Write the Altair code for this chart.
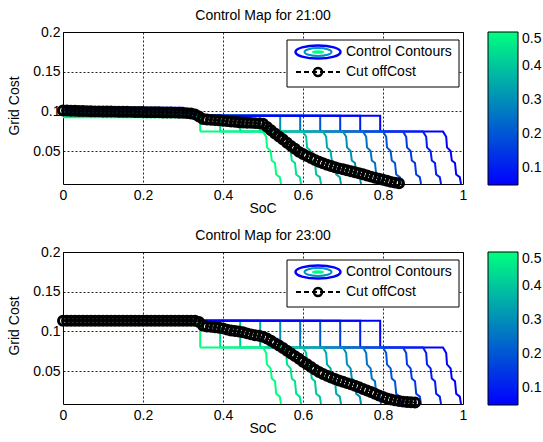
import altair as alt
import pandas as pd

FONT = "Liberation Sans"

# ---------------- data ----------------
soc_ticks = [0, 0.2, 0.4, 0.6, 0.8, 1]
cost_ticks = [0.05, 0.1, 0.15, 0.2]
cbar_ticks = [0.1, 0.2, 0.3, 0.4, 0.5]
y_min = 0.0085

levels = [0.5, 0.45, 0.4, 0.35, 0.3, 0.25, 0.2, 0.15, 0.1, 0.05]
knee_soc = [0.0, 0.30, 0.34]
drop_soc = [0.343, 0.393, 0.443, 0.493, 0.543, 0.593, 0.643, 0.693, 0.743, 0.793]
stair_soc = [0.500, 0.550, 0.600, 0.650, 0.700, 0.750, 0.800, 0.850, 0.900, 0.950]
stair_dx = [0, 0.008, 0.010, 0.019, 0.022, 0.030, 0.033, 0.042, 0.045]
stair_frac = [0, 0.10, 0.30, 0.37, 0.55, 0.60, 0.82, 0.87, 1.0]

left_cost_21 = [0.0925, 0.094, 0.0955, 0.097, 0.0985, 0.0995, 0.1005, 0.1015, 0.103, 0.1045]
upper_cost_21 = 0.0945
lower_cost_21 = 0.0745
left_cost_23 = [0.1130, 0.1131, 0.1132, 0.1133, 0.1134, 0.1135, 0.1136, 0.1137, 0.1138, 0.1139]
upper_cost_23 = 0.1135
lower_cost_23 = 0.0798

cut_soc_21 = [0.00, 0.01, 0.02, 0.03, 0.04, 0.05, 0.06, 0.07, 0.08, 0.09,
              0.10, 0.11, 0.12, 0.13, 0.14, 0.15, 0.16, 0.17, 0.18, 0.19,
              0.20, 0.21, 0.22, 0.23, 0.24, 0.25, 0.26, 0.27, 0.28, 0.29,
              0.30, 0.31, 0.32, 0.33, 0.34, 0.35, 0.36, 0.37, 0.38, 0.39,
              0.40, 0.41, 0.42, 0.43, 0.44, 0.45, 0.46, 0.47, 0.48, 0.49,
              0.50, 0.51, 0.52, 0.53, 0.54, 0.55, 0.56, 0.57, 0.58, 0.59,
              0.60, 0.61, 0.62, 0.63, 0.64, 0.65, 0.66, 0.67, 0.68, 0.69,
              0.70, 0.71, 0.72, 0.73, 0.74, 0.75, 0.76, 0.77, 0.78, 0.79,
              0.80, 0.81, 0.82, 0.83, 0.84]
cut_cost_21 = [0.1010, 0.1010, 0.1008, 0.1007, 0.1005, 0.1004, 0.1003, 0.1002, 0.1000, 0.1000,
               0.0999, 0.0998, 0.0998, 0.0997, 0.0996, 0.0995, 0.0995, 0.0994, 0.0993, 0.0992,
               0.0991, 0.0990, 0.0990, 0.0989, 0.0988, 0.0987, 0.0986, 0.0985, 0.0984, 0.0983,
               0.0981, 0.0978, 0.0974, 0.0962, 0.0935, 0.0905, 0.0898, 0.0893, 0.0890, 0.0887,
               0.0882, 0.0877, 0.0872, 0.0868, 0.0864, 0.0860, 0.0857, 0.0855, 0.0852, 0.0849,
               0.0843, 0.0805, 0.0762, 0.0721, 0.0683, 0.0645, 0.0605, 0.0565, 0.0528, 0.0490,
               0.0462, 0.0436, 0.0412, 0.0388, 0.0366, 0.0346, 0.0327, 0.0311, 0.0296, 0.0282,
               0.0270, 0.0258, 0.0246, 0.0233, 0.0220, 0.0207, 0.0193, 0.0178, 0.0164, 0.0150,
               0.0138, 0.0125, 0.0112, 0.0102, 0.0095]

cut_soc_23 = [0.00, 0.01, 0.02, 0.03, 0.04, 0.05, 0.06, 0.07, 0.08, 0.09,
              0.10, 0.11, 0.12, 0.13, 0.14, 0.15, 0.16, 0.17, 0.18, 0.19,
              0.20, 0.21, 0.22, 0.23, 0.24, 0.25, 0.26, 0.27, 0.28, 0.29,
              0.30, 0.31, 0.32, 0.33, 0.34, 0.35, 0.36, 0.37, 0.38, 0.39,
              0.40, 0.41, 0.42, 0.43, 0.44, 0.45, 0.46, 0.47, 0.48, 0.49,
              0.50, 0.51, 0.52, 0.53, 0.54, 0.55, 0.56, 0.57, 0.58, 0.59,
              0.60, 0.61, 0.62, 0.63, 0.64, 0.65, 0.66, 0.67, 0.68, 0.69,
              0.70, 0.71, 0.72, 0.73, 0.74, 0.75, 0.76, 0.77, 0.78, 0.79,
              0.80, 0.81, 0.82, 0.83, 0.84, 0.85, 0.86, 0.87, 0.88]
cut_cost_23 = [0.1135, 0.1135, 0.1135, 0.1135, 0.1135, 0.1135, 0.1135, 0.1135, 0.1135, 0.1135,
               0.1135, 0.1135, 0.1135, 0.1135, 0.1135, 0.1135, 0.1135, 0.1135, 0.1135, 0.1135,
               0.1135, 0.1135, 0.1135, 0.1135, 0.1135, 0.1135, 0.1135, 0.1135, 0.1135, 0.1135,
               0.1135, 0.1135, 0.1135, 0.1133, 0.1118, 0.1075, 0.1062, 0.1058, 0.1052, 0.1046,
               0.1038, 0.1022, 0.1012, 0.1005, 0.0998, 0.0990, 0.0975, 0.0962, 0.0952, 0.0944,
               0.0932, 0.0910, 0.0882, 0.0852, 0.0822, 0.0790, 0.0755, 0.0722, 0.0688, 0.0654,
               0.0618, 0.0585, 0.0552, 0.0518, 0.0488, 0.0462, 0.0440, 0.0420, 0.0400, 0.0382,
               0.0365, 0.0348, 0.0332, 0.0314, 0.0295, 0.0275, 0.0255, 0.0235, 0.0214, 0.0193,
               0.0172, 0.0155, 0.0142, 0.0131, 0.0122, 0.0115, 0.0110, 0.0106, 0.0105]

color_scale = alt.Scale(domain=[0.05, 0.5], range=["#0000ff", "#00ff80"], interpolate="rgb")
x_scale = alt.Scale(domain=[0, 1], nice=False, zero=False)
y_scale = alt.Scale(domain=[y_min, 0.2], nice=False, zero=False)


def contour_tables(left_cost, upper, lower):
    up_rows, low_rows = [], []
    # upper parts: green first so the blue ones end on top
    for k in range(len(levels)):
        pts = [(knee_soc[0], left_cost[k]), (knee_soc[1], left_cost[k]), (knee_soc[2], upper),
               (drop_soc[k], upper), (drop_soc[k], lower)]
        for i, (sx, cy) in enumerate(pts):
            up_rows.append({"level": levels[k], "k": k, "i": i, "soc": sx, "cost": cy})
    # lower parts: blue first so the green ones end on top
    for k in reversed(range(len(levels))):
        pts = [(drop_soc[k], lower)]
        for dx, f in zip(stair_dx, stair_frac):
            pts.append((stair_soc[k] + dx, lower - f * (lower - y_min)))
        for i, (sx, cy) in enumerate(pts):
            low_rows.append({"level": levels[k], "k": k, "i": i, "soc": sx, "cost": cy})
    return pd.DataFrame(up_rows), pd.DataFrame(low_rows)


def panel(title, left_cost, upper, lower, cut_soc, cut_cost):
    cont_up, cont_low = contour_tables(left_cost, upper, lower)
    cut = pd.DataFrame({"soc": cut_soc, "cost": cut_cost})
    one = pd.DataFrame({"d": [0]})

    x_enc = alt.X("soc:Q", scale=x_scale, title=None,
                  axis=alt.Axis(values=soc_ticks, format="~g", grid=True, labelFlush=False))
    y_enc = alt.Y("cost:Q", scale=y_scale, title=None,
                  axis=alt.Axis(values=cost_ticks, format="~g", grid=True, labelFlush=False))
    legend = alt.Legend(title=None, orient="none", legendX=425, legendY=0,
                        direction="vertical", gradientLength=153,
                        gradientThickness=30, values=cbar_ticks,
                        format="~g", labelFontSize=14, labelFont=FONT,
                        labelColor="black", labelOffset=4,
                        labelBaseline="middle",
                        gradientStrokeColor="black",
                        gradientStrokeWidth=1)
    col = alt.Color("level:Q", scale=color_scale, legend=legend)

    lines_up = alt.Chart(cont_up).mark_line(strokeWidth=2, clip=True).encode(
        x=x_enc, y=y_enc, color=col, detail="k:N", order=alt.Order("i:Q"))
    lines_low = alt.Chart(cont_low).mark_line(strokeWidth=2, clip=True).encode(
        x=x_enc, y=y_enc, color=col, detail="k:N", order=alt.Order("i:Q"))
    cut_line = alt.Chart(cut).mark_line(color="black", strokeWidth=1.5,
                                        strokeDash=[5, 3]).encode(x="soc:Q", y="cost:Q")
    cut_pts = alt.Chart(cut).mark_point(shape="circle", size=80, filled=False, color="black",
                                        strokeWidth=3, opacity=1).encode(x="soc:Q", y="cost:Q")

    box = alt.Chart(one).mark_rect(fill="white", stroke="black", strokeWidth=1).encode(
        x=alt.value(224), x2=alt.value(396), y=alt.value(8), y2=alt.value(55))
    ell_path = "M-1,0A1,0.29,0,1,1,1,0A1,0.29,0,1,1,-1,0Z"
    ell_outer = alt.Chart(one).mark_point(shape=ell_path, size=2025, filled=False,
                                          color="#0000ff", strokeWidth=2.5, opacity=1).encode(
        x=alt.value(255), y=alt.value(20))
    ell_mid = alt.Chart(one).mark_point(shape=ell_path, size=730, filled=False,
                                        color="#0090c8", strokeWidth=2, opacity=1).encode(
        x=alt.value(255), y=alt.value(20))
    ell_in = alt.Chart(one).mark_point(shape=ell_path, size=150, filled=True,
                                       color="#00ff80", opacity=1).encode(
        x=alt.value(255), y=alt.value(20))
    dash_icon = alt.Chart(one).mark_rule(color="black", strokeWidth=2, strokeDash=[5, 3]).encode(
        x=alt.value(233), x2=alt.value(277), y=alt.value(40))
    circ_icon = alt.Chart(one).mark_point(shape="circle", size=65, filled=False, color="black",
                                          strokeWidth=2.5, opacity=1).encode(
        x=alt.value(255), y=alt.value(40))
    txt1 = alt.Chart(one).mark_text(font=FONT, fontSize=14, align="left", baseline="middle",
                                    color="black").encode(
        x=alt.value(283), y=alt.value(20), text=alt.value("Control Contours"))
    txt2 = alt.Chart(one).mark_text(font=FONT, fontSize=14, align="left", baseline="middle",
                                    color="black").encode(
        x=alt.value(283), y=alt.value(40), text=alt.value("Cut offCost"))
    ttl = alt.Chart(one).mark_text(font=FONT, fontSize=14, align="center",
                                   baseline="alphabetic", color="black").encode(
        x=alt.value(200), y=alt.value(-12), text=alt.value(title))
    xlab = alt.Chart(one).mark_text(font=FONT, fontSize=14, align="center",
                                    baseline="alphabetic", color="black").encode(
        x=alt.value(200), y=alt.value(181), text=alt.value("SoC"))
    ylab = alt.Chart(one).mark_text(font=FONT, fontSize=14, align="center",
                                    baseline="alphabetic", color="black", angle=270).encode(
        x=alt.value(-44), y=alt.value(74), text=alt.value("Grid Cost"))

    return alt.layer(lines_up, lines_low, cut_line, cut_pts, box, ell_outer, ell_mid, ell_in,
                     dash_icon, circ_icon, txt1, txt2, ttl, xlab, ylab).properties(
        width=400, height=152)


top = panel("Control Map for 21:00", left_cost_21, upper_cost_21, lower_cost_21,
            cut_soc_21, cut_cost_21)
bottom = panel("Control Map for 23:00", left_cost_23, upper_cost_23, lower_cost_23,
               cut_soc_23, cut_cost_23)

chart = alt.vconcat(top, bottom, spacing=68, bounds="flush").resolve_scale(
    color="independent").resolve_legend(color="independent").properties(
    autosize=alt.AutoSizeParams(type="none"),
    padding={"left": 63, "top": 32, "right": 80, "bottom": 410},
    background="white",
).configure_view(stroke="black", strokeWidth=1).configure_axis(
    domain=False, ticks=False, labelFont=FONT, labelFontSize=14, labelColor="black",
    gridColor="black", gridDash=[2, 2], gridOpacity=0.85, gridWidth=1,
).configure_axisX(labelPadding=4).configure_axisY(labelPadding=3)

chart.save("out.html", embed_options={"renderer": "svg", "actions": False})
